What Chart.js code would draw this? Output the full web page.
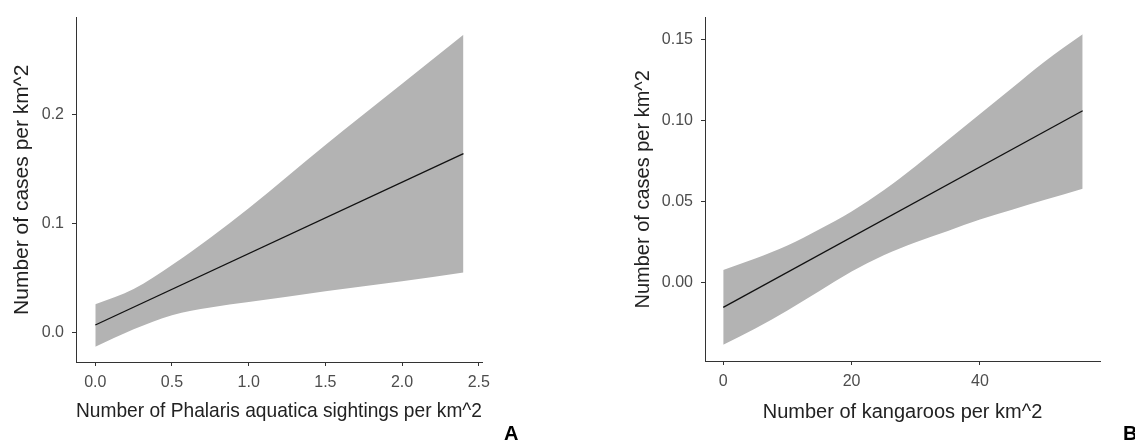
<!DOCTYPE html>
<html>
<head>
<meta charset="utf-8">
<script src="https://cdn.jsdelivr.net/npm/chart.js@4.4.1/dist/chart.umd.min.js"></script>
<style>
  body { margin: 0; background: #fff; width: 1135px; height: 442px; overflow: hidden; position: relative; }
  canvas { position: absolute; top: 0; }
  #chartA { left: 0; }
  #chartB { left: 590px; }
  .panel { position: absolute; font: bold 20px "Liberation Sans", Arial, sans-serif; color: #000; line-height: 20px; }
</style>
</head>
<body>
<canvas id="chartA" width="540" height="442"></canvas>
<canvas id="chartB" width="545" height="442"></canvas>
<div class="panel" style="left:504px; top:423px;">A</div>
<div class="panel" style="left:1123px; top:423px;">B</div>
<script>
// panel A: Phalaris aquatica sightings
const fitXA = [0, 2.4];
const fitA = [0.007, 0.164];
const xA = [0, 0.25, 0.5, 0.75, 1.0, 1.5, 2.0, 2.4];
const upperA = [0.026, 0.040, 0.062, 0.087, 0.114, 0.172, 0.228, 0.273];
const lowerA = [-0.013, 0.003, 0.016, 0.023, 0.028, 0.038, 0.047, 0.055];
const xTicksA = [0, 0.5, 1.0, 1.5, 2.0, 2.5];
const xTickLabelsA = ["0.0", "0.5", "1.0", "1.5", "2.0", "2.5"];
const yTicksA = [0, 0.1, 0.2];
const yTickLabelsA = ["0.0", "0.1", "0.2"];

// panel B: kangaroos
const fitXB = [0, 56];
const fitB = [-0.015, 0.106];
const xB = [0, 5, 10, 15, 20, 25, 30, 35, 40, 45, 50, 56];
const upperB = [0.008, 0.015, 0.023, 0.033, 0.044, 0.057, 0.072, 0.088, 0.104, 0.120, 0.136, 0.153];
const lowerB = [-0.038, -0.028, -0.017, -0.005, 0.007, 0.017, 0.025, 0.032, 0.039, 0.045, 0.051, 0.058];
const xTicksB = [0, 20, 40];
const xTickLabelsB = ["0", "20", "40"];
const yTicksB = [0, 0.05, 0.10, 0.15];
const yTickLabelsB = ["0.00", "0.05", "0.10", "0.15"];

const FONT = '"Liberation Sans", Arial, sans-serif';
const BAND = "#b3b3b3";
const AXIS = "#333333";

function pts(xs, ys) {
  return xs.map((x, i) => ({ x: x, y: ys[i] }));
}

function axis(opts) {
  return {
    type: "linear",
    min: opts.min,
    max: opts.max,
    afterBuildTicks: (s) => { s.ticks = opts.ticks.map((v) => ({ value: v })); },
    afterFit: (s) => {
      if (opts.width) s.width = opts.width;
      if (opts.height) s.height = opts.height;
    },
    border: { display: true, color: AXIS, width: 1 },
    grid: { drawOnChartArea: false, drawTicks: true, tickLength: 4, color: AXIS, lineWidth: 1 },
    ticks: {
      padding: opts.tickPad,
      color: "#4d4d4d",
      font: { family: FONT, size: 16 },
      maxRotation: 0,
      callback: (v) => opts.labels[opts.ticks.indexOf(v)],
    },
    title: {
      display: true,
      text: opts.title,
      color: "#222222",
      font: { family: FONT, size: opts.titleSize },
      padding: opts.titlePad,
    },
  };
}

function makeChart(id, fx, fit, xs, lo, hi, sc, pad) {
  return new Chart(document.getElementById(id), {
    type: "line",
    data: {
      datasets: [
        { data: pts(fx, fit), borderColor: "#111111", borderWidth: 1.3, pointRadius: 0, fill: false },
        { data: pts(xs, lo), borderWidth: 0, pointRadius: 0, fill: false, cubicInterpolationMode: "monotone" },
        { data: pts(xs, hi), borderWidth: 0, pointRadius: 0, backgroundColor: BAND, fill: 1, cubicInterpolationMode: "monotone" },
      ],
    },
    options: {
      responsive: false,
      animation: false,
      devicePixelRatio: 1,
      layout: { padding: pad },
      plugins: { legend: { display: false }, tooltip: { enabled: false } },
      scales: { x: sc.x, y: sc.y },
    },
  });
}

makeChart("chartA", fitXA, fitA, xA, lowerA, upperA, {
  x: axis({ min: -0.1258, max: 2.521, ticks: xTicksA, labels: xTickLabelsA, height: 80, tickPad: 7,
    title: "Number of Phalaris aquatica sightings per km^2", titleSize: 21, titlePad: { top: 0, bottom: 18 } }),
  y: axis({ min: -0.0269, max: 0.2886, ticks: yTicksA, labels: yTickLabelsA, width: 76, tickPad: 8,
    title: "Number of cases per km^2", titleSize: 21, titlePad: { top: 10, bottom: 0 } }),
}, { left: 0, top: 7, right: 58, bottom: 0 });

makeChart("chartB", fitXB, fitB, xB, lowerB, upperB, {
  x: axis({ min: -2.84, max: 58.7, ticks: xTicksB, labels: xTickLabelsB, height: 81, tickPad: 7,
    title: "Number of kangaroos per km^2", titleSize: 20, titlePad: { top: 0, bottom: 18 } }),
  y: axis({ min: -0.048, max: 0.1633, ticks: yTicksB, labels: yTickLabelsB, width: 115, tickPad: 8,
    title: "Number of cases per km^2", titleSize: 20, titlePad: { top: 41, bottom: 0 } }),
}, { left: 0, top: 7, right: 35, bottom: 0 });
</script>
</body>
</html>
